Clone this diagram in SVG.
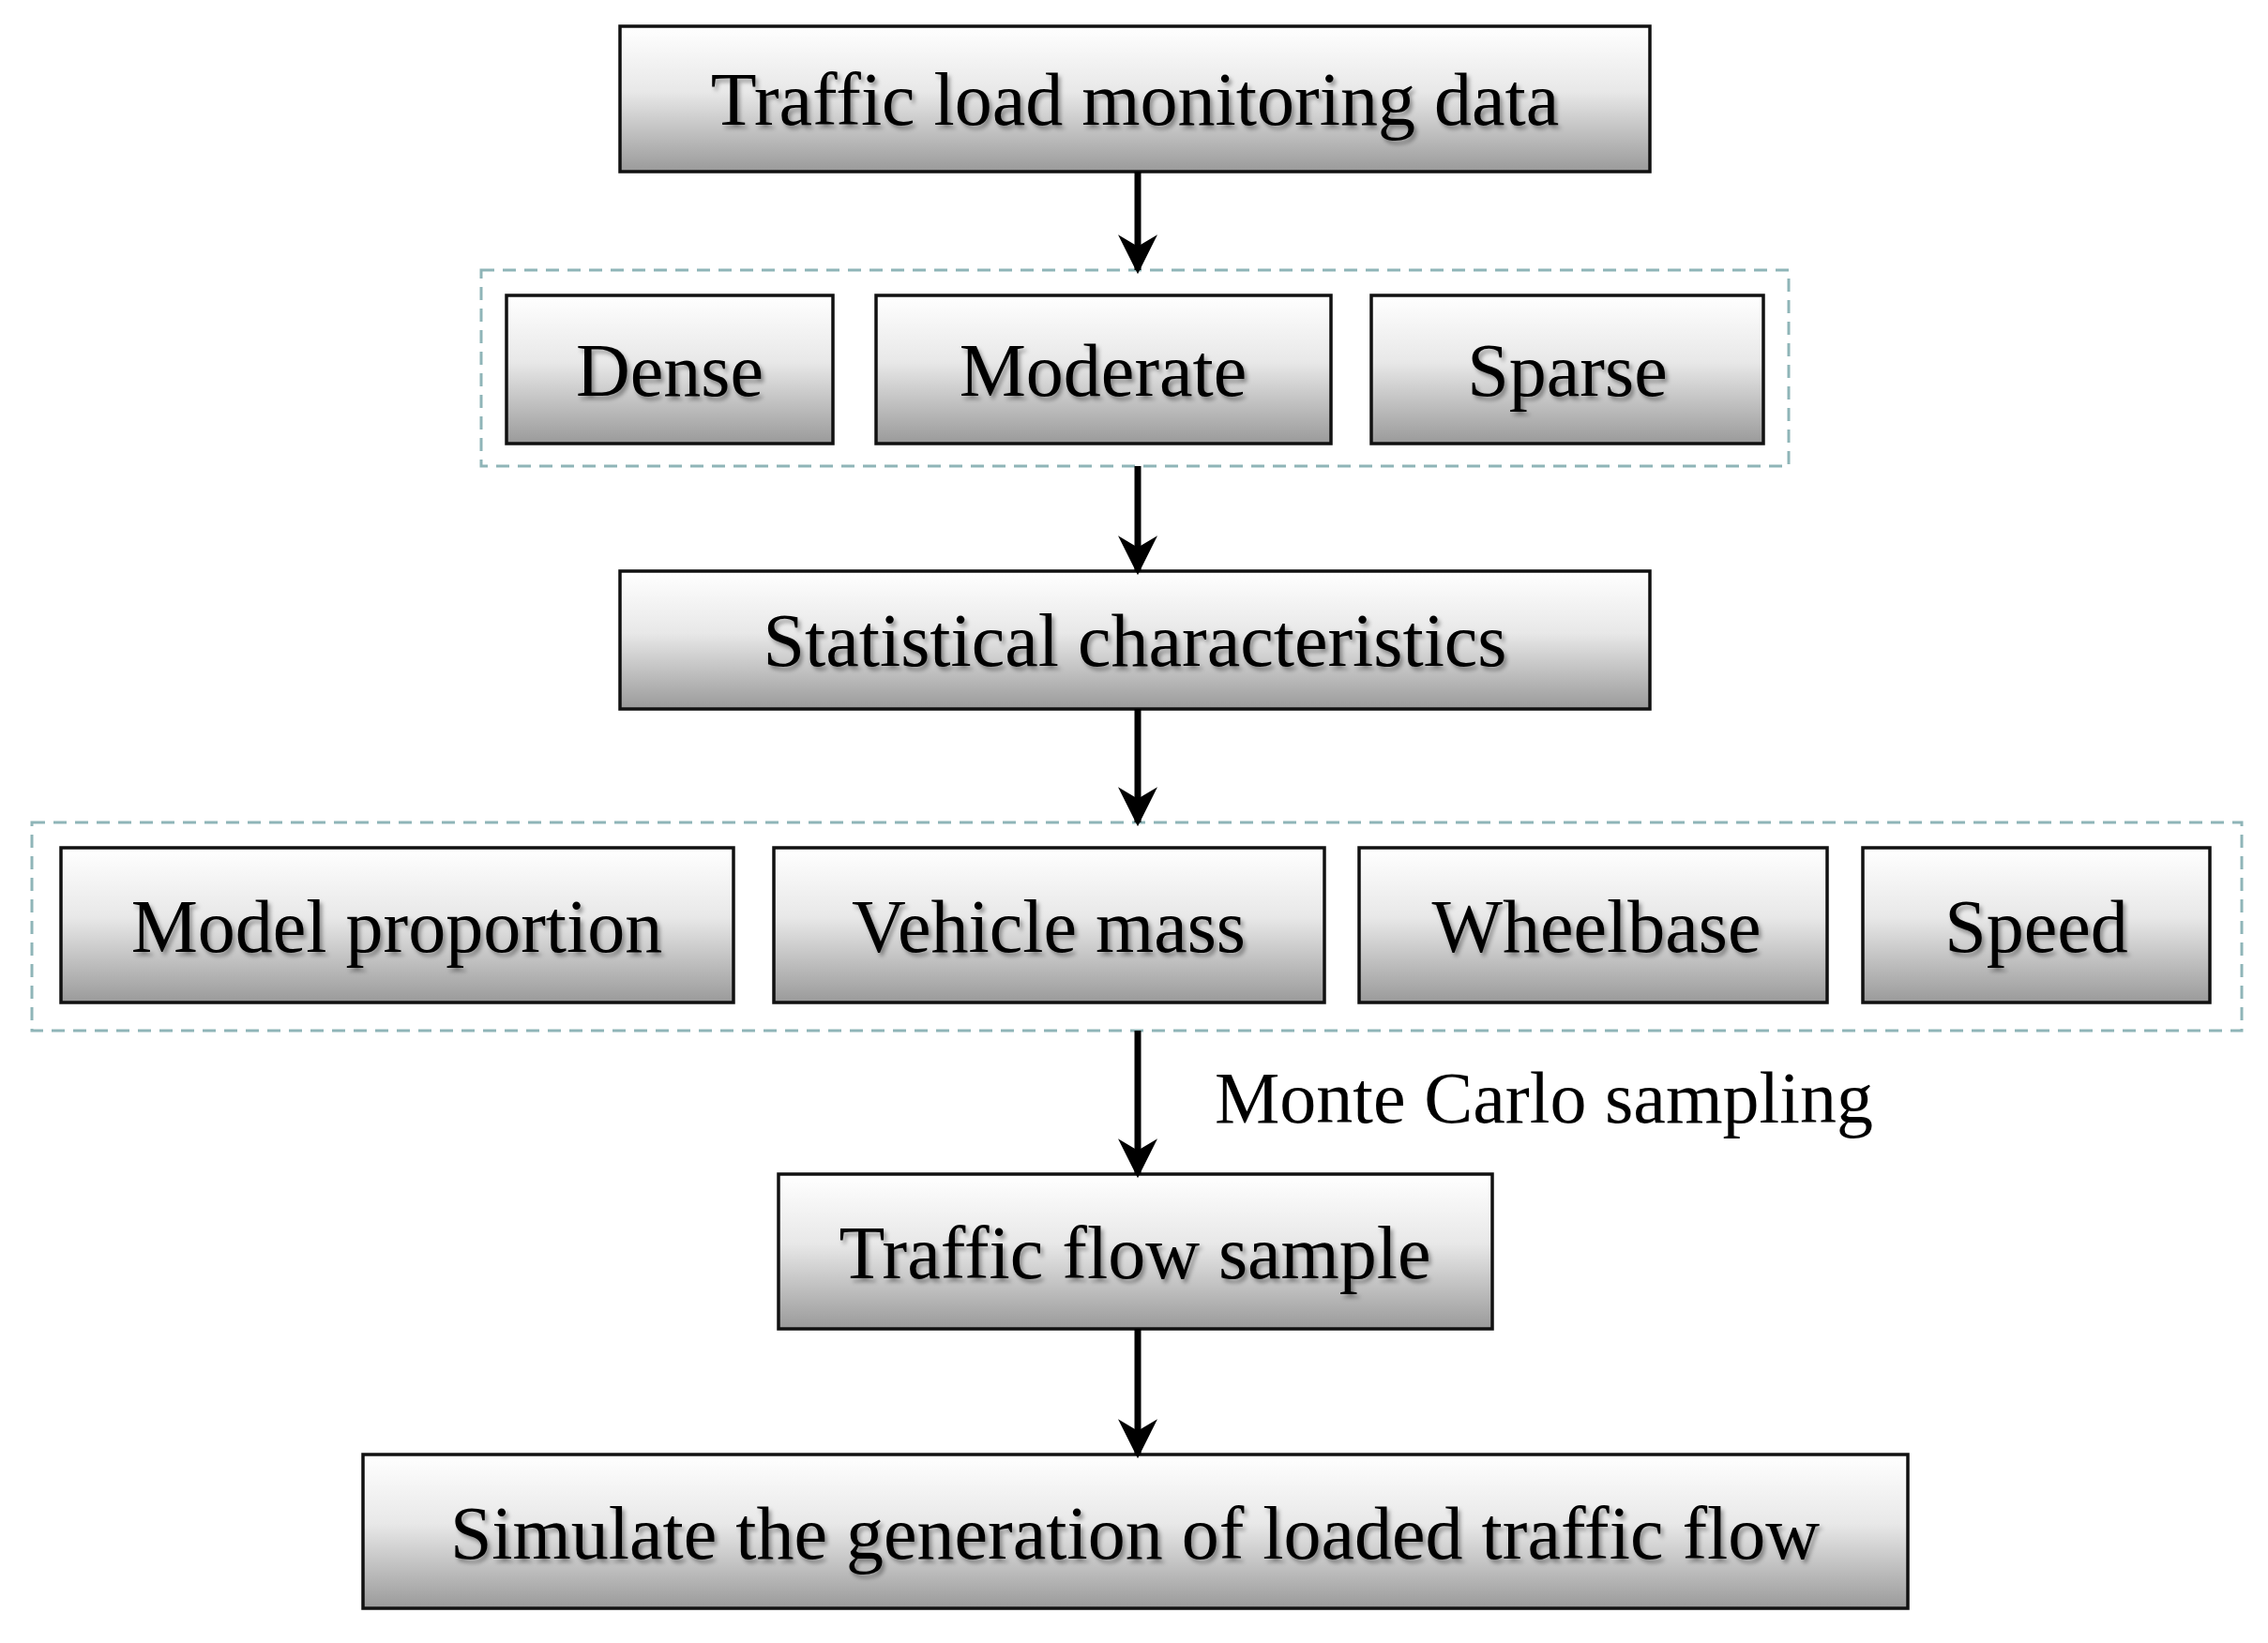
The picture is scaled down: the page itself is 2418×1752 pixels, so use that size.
<svg xmlns="http://www.w3.org/2000/svg" width="2418" height="1752" viewBox="0 0 2418 1752">
<style>
.b{fill:url(#g);stroke:#111;stroke-width:3.5}
.t{font-family:"Liberation Serif",serif;font-size:80px;fill:#000;text-anchor:middle;filter:url(#s)}
.d{fill:none;stroke:#8fb5b8;stroke-width:3;stroke-dasharray:14 9}
.c{stroke:#000;stroke-width:7;fill:none;marker-end:url(#a)}
</style>
<defs>
<linearGradient id="g" x1="0" y1="0" x2="0" y2="1"><stop offset="0" stop-color="#ffffff"/><stop offset="0.45" stop-color="#e8e8e8"/><stop offset="1" stop-color="#9a9a9a"/></linearGradient>
<filter id="s" x="-5%" y="-20%" width="110%" height="140%"><feDropShadow dx="3" dy="4" stdDeviation="2" flood-color="#000" flood-opacity="0.35"/></filter>
<marker id="a" viewBox="0 0 10 10" refX="9" refY="5" markerWidth="6" markerHeight="6" markerUnits="strokeWidth" orient="auto"><path d="M0,0 L10,5 L0,10 L3,5 Z" fill="#000"/></marker>
</defs>
<rect width="2418" height="1752" fill="#fff"/>
<rect class="d" x="513" y="288" width="1394" height="209"/>
<rect class="d" x="34" y="877" width="2356" height="222"/>
<g id="n1"><rect class="b" x="661" y="28" width="1098" height="155"/><text class="t" x="1210" y="133">Traffic load monitoring data</text></g>
<g id="n2"><rect class="b" x="540" y="315" width="348" height="158"/><text class="t" x="714" y="422">Dense</text></g>
<g id="n3"><rect class="b" x="934" y="315" width="485" height="158"/><text class="t" x="1176" y="422">Moderate</text></g>
<g id="n4"><rect class="b" x="1462" y="315" width="418" height="158"/><text class="t" x="1671" y="422">Sparse</text></g>
<g id="n5"><rect class="b" x="661" y="609" width="1098" height="147"/><text class="t" x="1210" y="710">Statistical characteristics</text></g>
<g id="n6"><rect class="b" x="65" y="904" width="717" height="165"/><text class="t" x="423" y="1015">Model proportion</text></g>
<g id="n7"><rect class="b" x="825" y="904" width="587" height="165"/><text class="t" x="1118" y="1015">Vehicle mass</text></g>
<g id="n8"><rect class="b" x="1449" y="904" width="499" height="165"/><text class="t" x="1702" y="1015">Wheelbase</text></g>
<g id="n9"><rect class="b" x="1986" y="904" width="370" height="165"/><text class="t" x="2171" y="1015">Speed</text></g>
<g id="n10"><rect class="b" x="830" y="1252" width="761" height="165"/><text class="t" x="1210" y="1363">Traffic flow sample</text></g>
<g id="n11"><rect class="b" x="387" y="1551" width="1647" height="164"/><text class="t" x="1210" y="1662">Simulate the generation of loaded traffic flow</text></g>
<g id="connectors">
<line class="c" x1="1213" y1="183" x2="1213" y2="288"/>
<line class="c" x1="1213" y1="497" x2="1213" y2="609"/>
<line class="c" x1="1213" y1="756" x2="1213" y2="877"/>
<line class="c" x1="1213" y1="1099" x2="1213" y2="1252"/>
<line class="c" x1="1213" y1="1417" x2="1213" y2="1551"/>
<text x="1295" y="1197" font-family="Liberation Serif,serif" font-size="78" fill="#000">Monte Carlo sampling</text>
</g>
</svg>
